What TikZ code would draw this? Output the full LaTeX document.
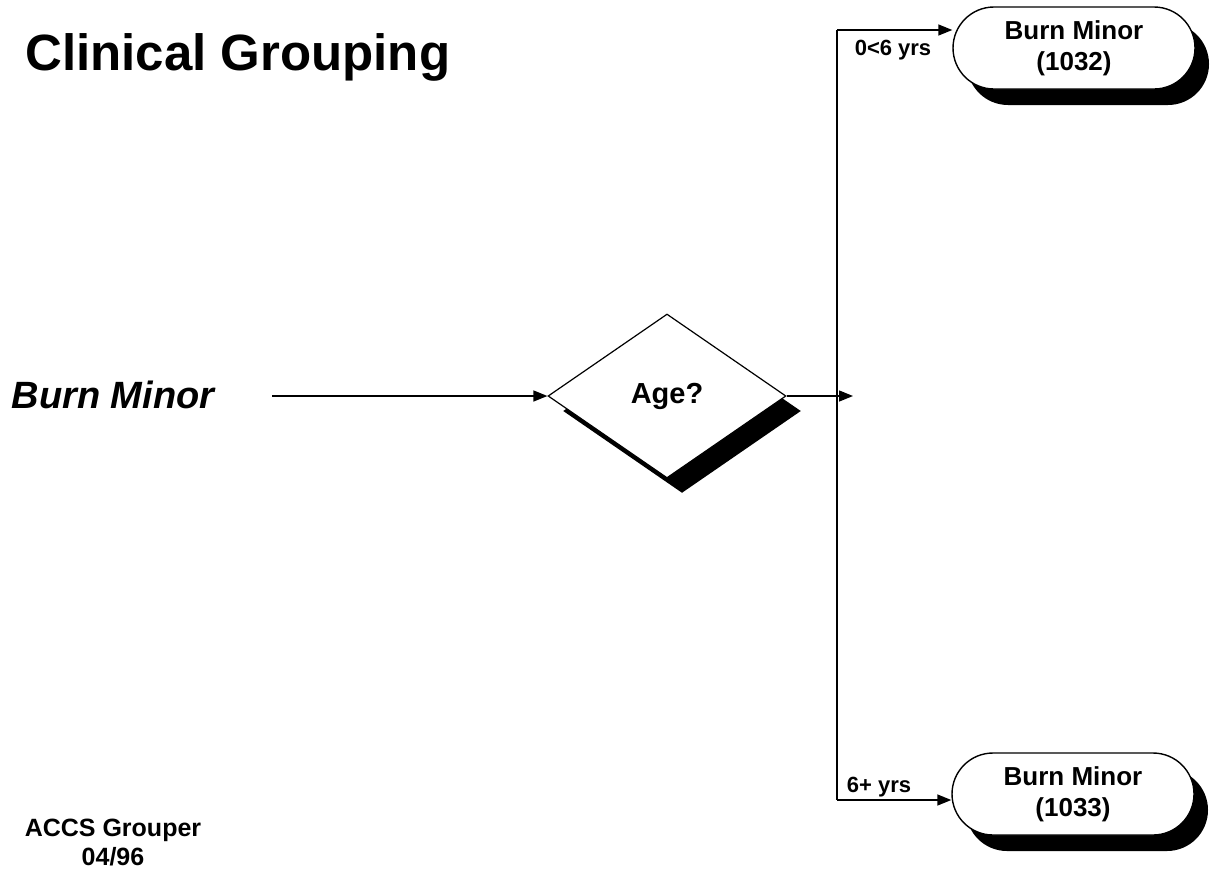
\documentclass[tikz,border=0pt]{standalone}
\usepackage{fontspec}
\setmainfont{Liberation Sans}
\usetikzlibrary{shapes.geometric,shapes.misc,shadows,arrows.meta}
\begin{document}
\begin{tikzpicture}[x=1pt,y=-1pt,
  conn/.style={line width=1.4pt,draw=black},
  arr/.style={conn,-{Triangle[length=14pt,width=11pt]}},
  lbl/.style={inner sep=0pt,font=\bfseries\fontsize{22}{25}\selectfont},
  pill/.style={rounded rectangle,draw=black,line width=1.4pt,fill=white,
    minimum width=242pt,minimum height=82pt,inner sep=0pt,align=center,
    font=\bfseries\fontsize{26}{31}\selectfont,
    general shadow={fill=black,shadow xshift=14pt,shadow yshift=-16pt}},
  decide/.style={diamond,draw=black,line width=1.2pt,fill=white,
    minimum width=238pt,minimum height=164pt,inner sep=0pt,
    font=\bfseries\fontsize{29}{32}\selectfont,
    general shadow={fill=black,shadow xshift=15pt,shadow yshift=-15pt}}]
\useasboundingbox[fill=white] (0,0) rectangle (1212,873);
\node[inner sep=0pt,anchor=base west,font=\bfseries\fontsize{51}{60}\selectfont] (title) at (25,70) {Clinical Grouping};
\node[inner sep=0pt,font=\bfseries\itshape\fontsize{38}{44}\selectfont] (src) at (113,395) {Burn Minor};
\node[decide] (age) at (667,396) {Age?};
\node[pill] (top) at (1074,48) {Burn Minor\\(1032)};
\node[pill] (bot) at (1073,794) {Burn Minor\\(1033)};
\node[inner sep=0pt,align=center,font=\bfseries\fontsize{25}{29}\selectfont] (foot) at (113,843) {ACCS Grouper\\04/96};
\coordinate (start) at (272,396);
\coordinate (stub) at (853,396);
\coordinate (jt) at (837,30);
\coordinate (jb) at (837,800);
\draw[arr] (start) -- (age.west);
\draw[arr] (age.east) -- (stub);
\draw[conn] (jt) -- (jb);
\draw[arr] (jt) -- (jt -| top.west);
\draw[arr] (jb) -- (jb -| bot.west);
\node[lbl] (l1) at (893,50) {0<6 yrs};
\node[lbl] (l2) at (879,787) {6+ yrs};
\end{tikzpicture}
\end{document}
